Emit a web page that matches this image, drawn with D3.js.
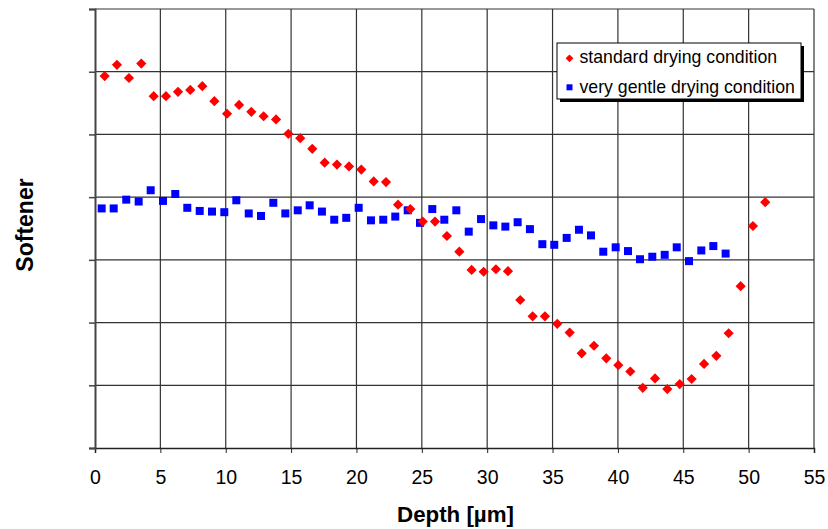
<!DOCTYPE html>
<html lang="en">
  <head>
    <meta charset="UTF-8" />
    <title>Softener vs depth</title>
    <style>
      body { margin: 0; background: #fff; }
      text { font-family: "Liberation Sans", Arial, sans-serif; }
    </style>
  </head>
  <body>
    <div class="chart"></div>
    <script src="https://d3js.org/d3.v7.min.js"></script>
    <script>
      // data (depth in µm, softener in arbitrary units)
      const standardDepth = [0.74, 1.68, 2.60, 3.54, 4.49, 5.43, 6.35, 7.29, 8.21, 9.13, 10.10, 11.02, 11.96, 12.90, 13.85, 14.79, 15.70, 16.62, 17.57, 18.51, 19.43, 20.37, 21.32, 22.26, 23.18, 24.12, 25.07, 26.01, 26.92, 27.87, 28.81, 29.73, 30.67, 31.59, 32.53, 33.48, 34.42, 35.36, 36.31, 37.23, 38.17, 39.11, 40.03, 40.95, 41.90, 42.84, 43.78, 44.73, 45.64, 46.59, 47.53, 48.47, 49.39, 50.33, 51.27];
      const standardValues = [5.93, 6.11, 5.90, 6.13, 5.61, 5.61, 5.68, 5.71, 5.77, 5.53, 5.33, 5.47, 5.36, 5.29, 5.24, 5.01, 4.94, 4.77, 4.55, 4.52, 4.49, 4.44, 4.25, 4.24, 3.88, 3.81, 3.61, 3.61, 3.38, 3.13, 2.84, 2.81, 2.85, 2.82, 2.36, 2.10, 2.10, 1.98, 1.84, 1.51, 1.63, 1.43, 1.32, 1.22, 0.96, 1.11, 0.94, 1.02, 1.10, 1.34, 1.47, 1.83, 2.58, 3.54, 3.92];
      const gentleDepth = [0.51, 1.43, 2.39, 3.34, 4.26, 5.20, 6.14, 7.06, 8.01, 8.95, 9.89, 10.81, 11.76, 12.70, 13.64, 14.56, 15.51, 16.42, 17.36, 18.30, 19.22, 20.17, 21.11, 22.05, 22.97, 23.92, 24.86, 25.80, 26.72, 27.64, 28.59, 29.53, 30.47, 31.39, 32.33, 33.27, 34.22, 35.13, 36.08, 37.02, 37.94, 38.88, 39.83, 40.77, 41.69, 42.63, 43.58, 44.50, 45.44, 46.38, 47.30, 48.24];
      const gentleValues = [3.82, 3.82, 3.96, 3.93, 4.11, 3.94, 4.05, 3.83, 3.78, 3.77, 3.76, 3.95, 3.74, 3.70, 3.91, 3.74, 3.79, 3.87, 3.77, 3.64, 3.67, 3.83, 3.63, 3.64, 3.69, 3.79, 3.59, 3.81, 3.64, 3.79, 3.45, 3.65, 3.55, 3.53, 3.60, 3.49, 3.25, 3.24, 3.35, 3.48, 3.39, 3.13, 3.20, 3.14, 3.01, 3.05, 3.08, 3.20, 2.98, 3.15, 3.22, 3.10];
      const xTicks = [0, 5, 10, 15, 20, 25, 30, 35, 40, 45, 50, 55];
      const yTicks = [0, 1, 2, 3, 4, 5, 6, 7];
      const seriesNames = ["standard drying condition", "very gentle drying condition"];

      const width = 828, height = 529;
      const margin = { top: 9, right: 14, bottom: 81, left: 95 };

      const svg = d3.select(".chart").append("svg")
        .attr("width", width)
        .attr("height", height);

      const x = d3.scaleLinear().domain([0, 55]).range([margin.left, width - margin.right]);
      const y = d3.scaleLinear().domain([0, 7]).range([height - margin.bottom, margin.top]);

      // grid
      svg.append("g")
        .selectAll("line.v")
        .data(xTicks.slice(1))
        .enter()
        .append("line")
        .attr("x1", (d) => x(d)).attr("x2", (d) => x(d))
        .attr("y1", y(0)).attr("y2", y(7))
        .attr("stroke", "#333").attr("stroke-width", 1.2);

      svg.append("g")
        .selectAll("line.h")
        .data(yTicks.slice(1))
        .enter()
        .append("line")
        .attr("x1", x(0)).attr("x2", x(55))
        .attr("y1", (d) => y(d)).attr("y2", (d) => y(d))
        .attr("stroke", "#333").attr("stroke-width", 1.2);

      // axes
      const xAxis = svg.append("g")
        .attr("transform", `translate(0,${y(0)})`)
        .call(d3.axisBottom(x).tickValues(xTicks).tickSize(5).tickFormat(d3.format("d")));
      xAxis.select(".domain").attr("stroke", "#222").attr("stroke-width", 1.5);
      xAxis.selectAll("line").attr("stroke", "#222");
      xAxis.selectAll("text")
        .attr("y", 35.5).attr("dy", null)
        .attr("font-size", 19.5).attr("fill", "#000")
        .style("font-family", '"Liberation Sans", Arial, sans-serif');

      const yAxis = svg.append("g")
        .attr("transform", `translate(${x(0)},0)`)
        .call(d3.axisLeft(y).tickValues(yTicks).tickSize(6).tickFormat(""));
      yAxis.select(".domain").attr("stroke", "#444").attr("stroke-width", 2);
      yAxis.selectAll("line").attr("stroke", "#444").attr("stroke-width", 1.5);

      // axis titles
      svg.append("text")
        .attr("x", 455.5)
        .attr("y", 521.5)
        .attr("text-anchor", "middle")
        .attr("font-size", 22.3)
        .attr("font-weight", "bold")
        .text("Depth [µm]");

      svg.append("text")
        .attr("transform", "translate(33,225) rotate(-90)")
        .attr("text-anchor", "middle")
        .attr("font-size", 23)
        .attr("font-weight", "bold")
        .text("Softener");

      // markers
      const diamond = d3.symbol().type(d3.symbolSquare).size(52);
      const square = d3.symbol().type(d3.symbolSquare).size(64);

      svg.append("g")
        .selectAll("path")
        .data(gentleDepth)
        .enter()
        .append("path")
        .attr("d", square)
        .attr("transform", (d, i) => `translate(${x(d)},${y(gentleValues[i])})`)
        .attr("fill", "#0000ff");

      svg.append("g")
        .selectAll("path")
        .data(standardDepth)
        .enter()
        .append("path")
        .attr("d", diamond)
        .attr("transform", (d, i) => `translate(${x(d)},${y(standardValues[i])}) rotate(45)`)
        .attr("fill", "#ff0000");

      // legend
      const lg = svg.append("g").attr("transform", "translate(557,43)");
      lg.append("rect").attr("x", 3).attr("y", 3).attr("width", 244).attr("height", 56).attr("fill", "#000");
      lg.append("rect").attr("width", 244).attr("height", 56).attr("fill", "#fff").attr("stroke", "#000").attr("stroke-width", 1);
      lg.append("path")
        .attr("d", d3.symbol().type(d3.symbolSquare).size(30))
        .attr("transform", "translate(12.5,15.3) rotate(45)")
        .attr("fill", "#ff0000");
      lg.append("path")
        .attr("d", d3.symbol().type(d3.symbolSquare).size(36))
        .attr("transform", "translate(12.5,44.3)")
        .attr("fill", "#0000ff");
      lg.selectAll("text")
        .data(seriesNames)
        .enter()
        .append("text")
        .attr("x", 22.5)
        .attr("y", (d, i) => 20.3 + i * 29.4)
        .attr("font-size", 17.7)
        .text((d) => d);
    </script>
  </body>
</html>
